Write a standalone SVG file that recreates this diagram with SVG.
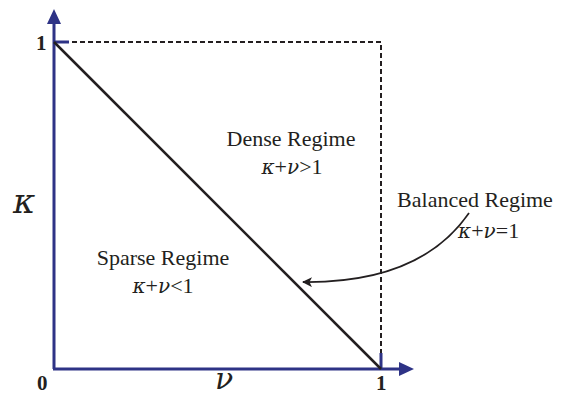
<svg xmlns="http://www.w3.org/2000/svg" width="570" height="397" viewBox="0 0 570 397">
<style>
.t{font-family:"Liberation Serif","Times New Roman",serif;fill:#231f20}
.lbl{font-size:22px}
.num{font-size:21px;font-weight:bold}
.it{font-style:italic;font-family:"DejaVu Serif","Liberation Serif",serif}
.g{font-size:20px}
.axis{stroke:#2e3386;stroke-width:3;fill:none}
.dash{stroke:#231f20;stroke-width:2;stroke-dasharray:5,3;fill:none}
</style>
<defs>
<marker id="ah" markerWidth="10" markerHeight="10" refX="9" refY="5" orient="auto" markerUnits="userSpaceOnUse">
<path d="M0,0 L10,5 L0,10 L2.5,5 Z" fill="#231f20"/>
</marker>
</defs>
<rect width="570" height="397" fill="#fff"/>
<g id="axes">
<line class="axis" x1="54" y1="369" x2="54" y2="22"/>
<polygon points="54,9 47,24 61,24" fill="#2e3386"/>
<line class="axis" x1="53" y1="369" x2="400" y2="369"/>
<polygon points="414,369 399,362 399,376" fill="#2e3386"/>
<line class="axis" x1="54" y1="42" x2="69" y2="42"/>
<line class="axis" x1="381" y1="369" x2="381" y2="353"/>
</g>
<g id="connectors">
<path class="dash" d="M72,42 H381 V353"/>
<line x1="54" y1="42" x2="381" y2="369" stroke="#231f20" stroke-width="2.5"/>
<path d="M469,213 C440,255 390,283 303,282" stroke="#231f20" stroke-width="1.8" fill="none" marker-end="url(#ah)"/>
</g>
<g id="labels">
<text class="t num" x="36" y="50">1</text>
<text class="t num" x="37" y="390">0</text>
<text class="t num" x="376" y="390">1</text>
<text class="t it" x="13" y="213" font-size="34">κ</text>
<text class="t it" x="215" y="389" font-size="30">ν</text>
</g>
<g id="dense">
<text class="t lbl" x="291" y="146" text-anchor="middle">Dense Regime</text>
<text class="t lbl" x="292" y="174" text-anchor="middle"><tspan class="it g">κ</tspan>+<tspan class="it g">ν</tspan>&gt;1</text>
</g>
<g id="sparse">
<text class="t lbl" x="163" y="265" text-anchor="middle">Sparse Regime</text>
<text class="t lbl" x="163" y="293" text-anchor="middle"><tspan class="it g">κ</tspan>+<tspan class="it g">ν</tspan>&lt;1</text>
</g>
<g id="balanced">
<text class="t lbl" x="475" y="207" text-anchor="middle">Balanced Regime</text>
<text class="t lbl" x="458" y="238"><tspan class="it g">κ</tspan>+<tspan class="it g">ν</tspan>=1</text>
</g>
</svg>
